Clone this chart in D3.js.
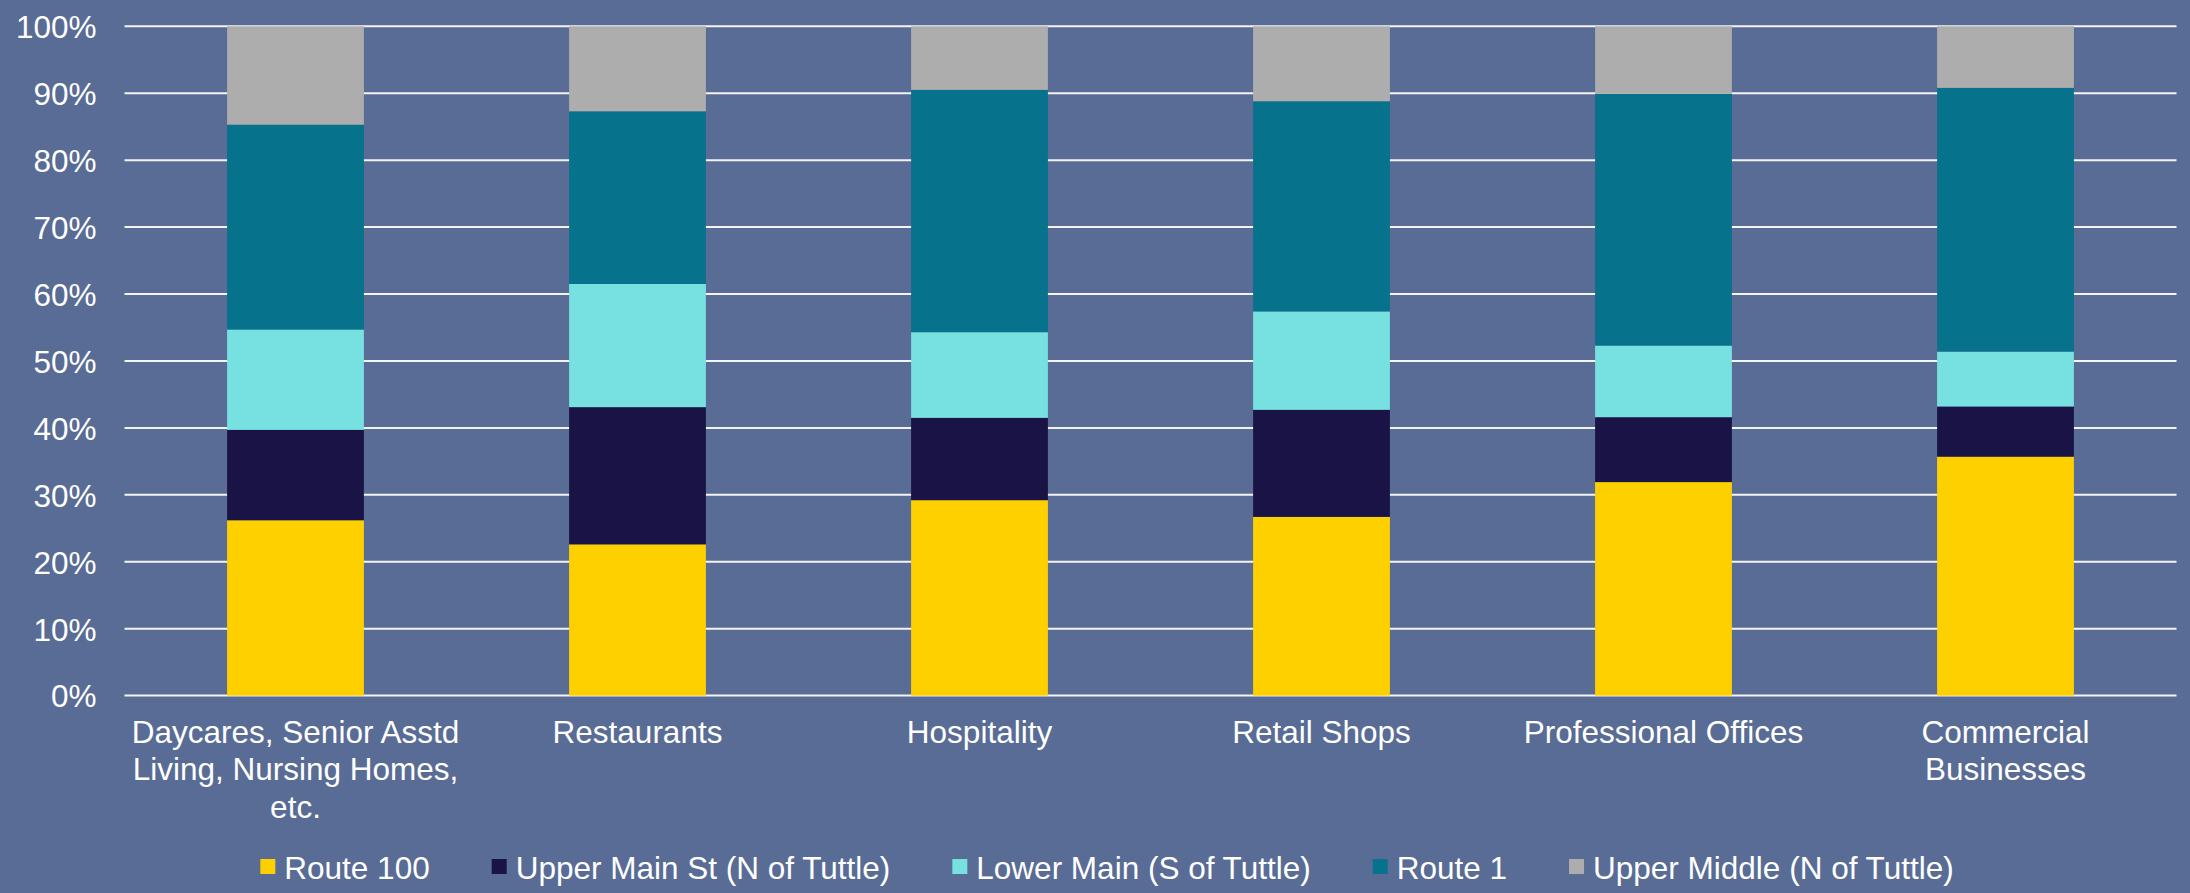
<!DOCTYPE html>
<html>
<head>
<meta charset="utf-8">
<script src="https://cdn.jsdelivr.net/npm/d3@7"></script>
<style>
    html, body { margin: 0; padding: 0; background: #596c95; }
    svg { display: block; font-family: "Liberation Sans", Arial, sans-serif; }
</style>
</head>
<body>
<svg class="wrapper" width="2190" height="893"></svg>
<script>
const categories = ["Daycares, Senior Asstd Living, Nursing Homes, etc.", "Restaurants", "Hospitality", "Retail Shops", "Professional Offices", "Commercial Businesses"];
const series_names = ["Route 100", "Upper Main St (N of Tuttle)", "Lower Main (S of Tuttle)", "Route 1", "Upper Middle (N of Tuttle)"];
const route_100 = [26.2, 22.6, 29.2, 26.7, 31.9, 35.7];
const upper_main = [13.5, 20.5, 12.3, 16.0, 9.7, 7.5];
const lower_main = [15.0, 18.4, 12.8, 14.7, 10.7, 8.2];
const route_1 = [30.6, 25.8, 36.2, 31.4, 37.6, 39.4];
const upper_middle = [14.7, 12.7, 9.5, 11.2, 10.1, 9.2];
const y_ticks = [0, 0.1, 0.2, 0.3, 0.4, 0.5, 0.6, 0.7, 0.8, 0.9, 1];

const colors = ["#ffd000", "#1a1446", "#77e0e0", "#06728c", "#adadad"];
const fontSize = 31.5;

const plotLeft = 124.5, plotRight = 2176.5, plotTop = 26.3, plotBottom = 695.6;

let table = categories.map((c, i) => ({
    cat: c,
    s0: route_100[i], s1: upper_main[i], s2: lower_main[i], s3: route_1[i], s4: upper_middle[i]
}));
let keys = ["s0", "s1", "s2", "s3", "s4"];
let stacked = d3.stack().keys(keys).offset(d3.stackOffsetExpand)(table);

let xScale = d3.scaleBand()
    .domain(categories)
    .range([plotLeft, plotRight])
    .paddingInner(0.6)
    .paddingOuter(0.3);

let yScale = d3.scaleLinear()
    .domain([0, 1])
    .range([plotBottom, plotTop]);

let svg = d3.select(".wrapper");

// grid
svg.append("g").classed("grid", true)
    .selectAll("line")
    .data(y_ticks)
    .enter()
    .append("line")
    .attr("x1", plotLeft)
    .attr("x2", plotRight)
    .attr("y1", d => yScale(d))
    .attr("y2", d => yScale(d))
    .attr("stroke", "#f4f4f4")
    .attr("stroke-width", 2);

// y axis labels
let yAxis = d3.axisLeft(yScale)
    .tickValues(y_ticks)
    .tickFormat(d3.format(".0%"))
    .tickSize(0)
    .tickPadding(28);
let gy = svg.append("g")
    .attr("transform", `translate(${plotLeft},0)`)
    .call(yAxis);
gy.select(".domain").remove();
gy.selectAll("text")
    .attr("fill", "#ffffff")
    .attr("font-size", fontSize)
    .attr("font-family", "Liberation Sans, Arial, sans-serif")
    .attr("dy", "0.36em");

// bars
let gBars = svg.append("g").classed("g_bars", true);
gBars.selectAll("g")
    .data(stacked)
    .enter()
    .append("g")
    .attr("fill", (d, i) => colors[i])
    .selectAll("rect")
    .data(d => d)
    .enter()
    .append("rect")
    .attr("x", d => xScale(d.data.cat))
    .attr("width", xScale.bandwidth())
    .attr("y", d => yScale(d[1]))
    .attr("height", d => yScale(d[0]) - yScale(d[1]));

// x labels with wrapping
let gx = svg.append("g").classed("x_labels", true);
gx.selectAll("text")
    .data(categories)
    .enter()
    .append("text")
    .attr("x", d => xScale(d) + xScale.bandwidth() / 2)
    .attr("y", 743)
    .attr("text-anchor", "middle")
    .attr("fill", "#ffffff")
    .attr("font-size", fontSize)
    .each(function (d) { wrap(d3.select(this), d, 333); });

function wrap(text, str, width) {
    let words = str.split(" ");
    let x = text.attr("x");
    let line = [];
    let tspan = text.append("tspan").attr("x", x).attr("dy", 0);
    words.forEach(w => {
        line.push(w);
        tspan.text(line.join(" "));
        if (tspan.node().getComputedTextLength() > width && line.length > 1) {
            line.pop();
            tspan.text(line.join(" "));
            line = [w];
            tspan = text.append("tspan").attr("x", x).attr("dy", 37.3).text(w);
        }
    });
}

// legend
let gLeg = svg.append("g").classed("legend", true);
let items = gLeg.selectAll("g")
    .data(series_names)
    .enter()
    .append("g");
items.append("rect")
    .attr("width", 15)
    .attr("height", 15)
    .attr("y", 859)
    .attr("fill", (d, i) => colors[i]);
items.append("text")
    .attr("x", 24)
    .attr("y", 879)
    .attr("fill", "#ffffff")
    .attr("font-size", fontSize)
    .text(d => d);

let widths = [];
items.selectAll("text").each(function () { widths.push(this.getComputedTextLength() + 24); });
let gap = 62;
let total = d3.sum(widths) + gap * (widths.length - 1);
let xPos = 1107 - total / 2;
items.each(function (d, i) {
    d3.select(this).attr("transform", `translate(${xPos},0)`);
    xPos += widths[i] + gap;
});
</script>
</body>
</html>
